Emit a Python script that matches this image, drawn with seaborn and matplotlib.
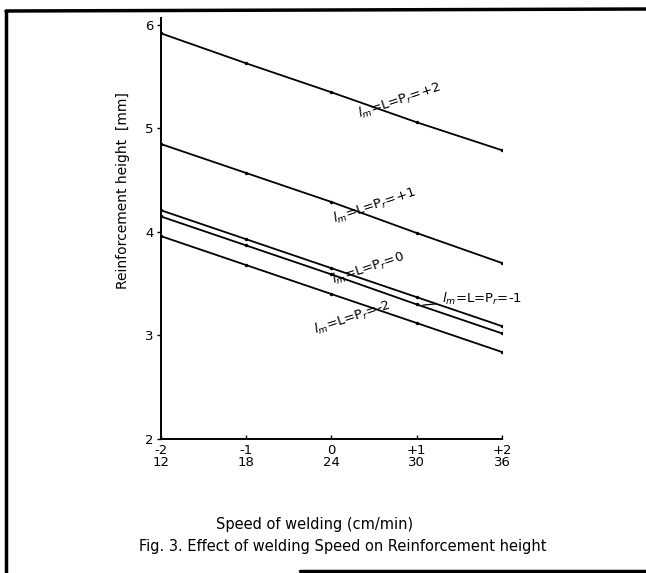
import matplotlib
matplotlib.use("Agg")
import matplotlib.pyplot as plt
import seaborn as sns
from matplotlib.lines import Line2D

# coded levels of welding speed and actual speeds (cm/min)
coded_speed = [-2, -1, 0, 1, 2]
speed_cm_min = [12, 18, 24, 30, 36]

# reinforcement height (mm) for each level of lm = L = Pr
h_plus2 = [5.92, 5.63, 5.35, 5.06, 4.79]
h_plus1 = [4.85, 4.57, 4.29, 3.99, 3.70]
h_zero = [4.21, 3.93, 3.65, 3.37, 3.09]
h_minus1 = [4.15, 3.87, 3.59, 3.30, 3.02]
h_minus2 = [3.96, 3.68, 3.40, 3.12, 2.84]

y_ticks = [2, 3, 4, 5, 6]

sns.set_theme(style="ticks")
plt.rcParams["font.family"] = ["DejaVu Sans"]
plt.rcParams["text.color"] = "black"
plt.rcParams["axes.labelcolor"] = "black"

fig = plt.figure(figsize=(6.46, 5.73), dpi=100)
ax = fig.add_axes([0.249, 0.234, 0.528, 0.735])

for vals in [h_plus2, h_plus1, h_zero, h_minus1, h_minus2]:
    sns.lineplot(x=coded_speed, y=vals, ax=ax, color="black", linewidth=1.3,
                 marker="o", markersize=2.5, markeredgewidth=0)

ax.set_xlim(-2, 2)
ax.set_ylim(2, 6.07)
sns.despine(ax=ax)
for s in ["left", "bottom"]:
    ax.spines[s].set_color("black")
    ax.spines[s].set_linewidth(1.4)

ax.set_xticks(coded_speed)
ax.set_xticklabels([f"{c:+d}".replace("+0", "0") + "\n" + str(v)
                    for c, v in zip(coded_speed, speed_cm_min)],
                   fontsize=9.5, linespacing=0.85)
ax.set_yticks(y_ticks)
ax.set_yticklabels([str(t) for t in y_ticks], fontsize=9.5)
ax.tick_params(axis="x", direction="in", length=3, width=1, pad=4,
               colors="black", labelcolor="black")
ax.tick_params(axis="y", direction="out", length=3, width=1, pad=2,
               colors="black", labelcolor="black")

ax.set_ylabel("Reinforcement height  [mm]", fontsize=10, color="black")
ax.yaxis.set_label_coords(-0.09, 0.59)

# line labels, rotated along the lines
rot = 18.5
lab = r"$l_m$=L=P$_r$="
ax.text(0.80, 5.27, lab + "+2", rotation=rot, ha="center", va="center", fontsize=9.5)
ax.text(0.51, 4.25, lab + "+1", rotation=rot, ha="center", va="center", fontsize=9.5)
ax.text(0.43, 3.65, lab + "0", rotation=rot, ha="center", va="center", fontsize=9.5)
ax.text(0.24, 3.17, lab + "-2", rotation=rot, ha="center", va="center", fontsize=9.5)
ax.annotate(lab + "-1", xy=(1.04, 3.29), xytext=(1.30, 3.35),
            ha="left", va="center", fontsize=9.5, annotation_clip=False,
            arrowprops=dict(arrowstyle="-", color="black", lw=0.9))

fig.text(0.487, 0.084, "Speed of welding (cm/min)", ha="center", va="center",
         fontsize=10.5, color="black")
fig.text(0.531, 0.046, "Fig. 3. Effect of welding Speed on Reinforcement height",
         ha="center", va="center", fontsize=10.5, color="black")

# scanned page frame
W, H = 646, 573
fig.add_artist(Line2D([6 / W, 1.0], [1 - 11 / H, 1 - 9 / H], color="black", lw=2.5,
                      transform=fig.transFigure))
fig.add_artist(Line2D([6 / W, 6 / W], [1 - 11 / H, 0.0], color="black", lw=2.5,
                      transform=fig.transFigure))
fig.add_artist(Line2D([300 / W, 1.0], [2 / H, 2 / H], color="black", lw=2.5,
                      transform=fig.transFigure))

fig.savefig("out.png", dpi=100, facecolor="white")
